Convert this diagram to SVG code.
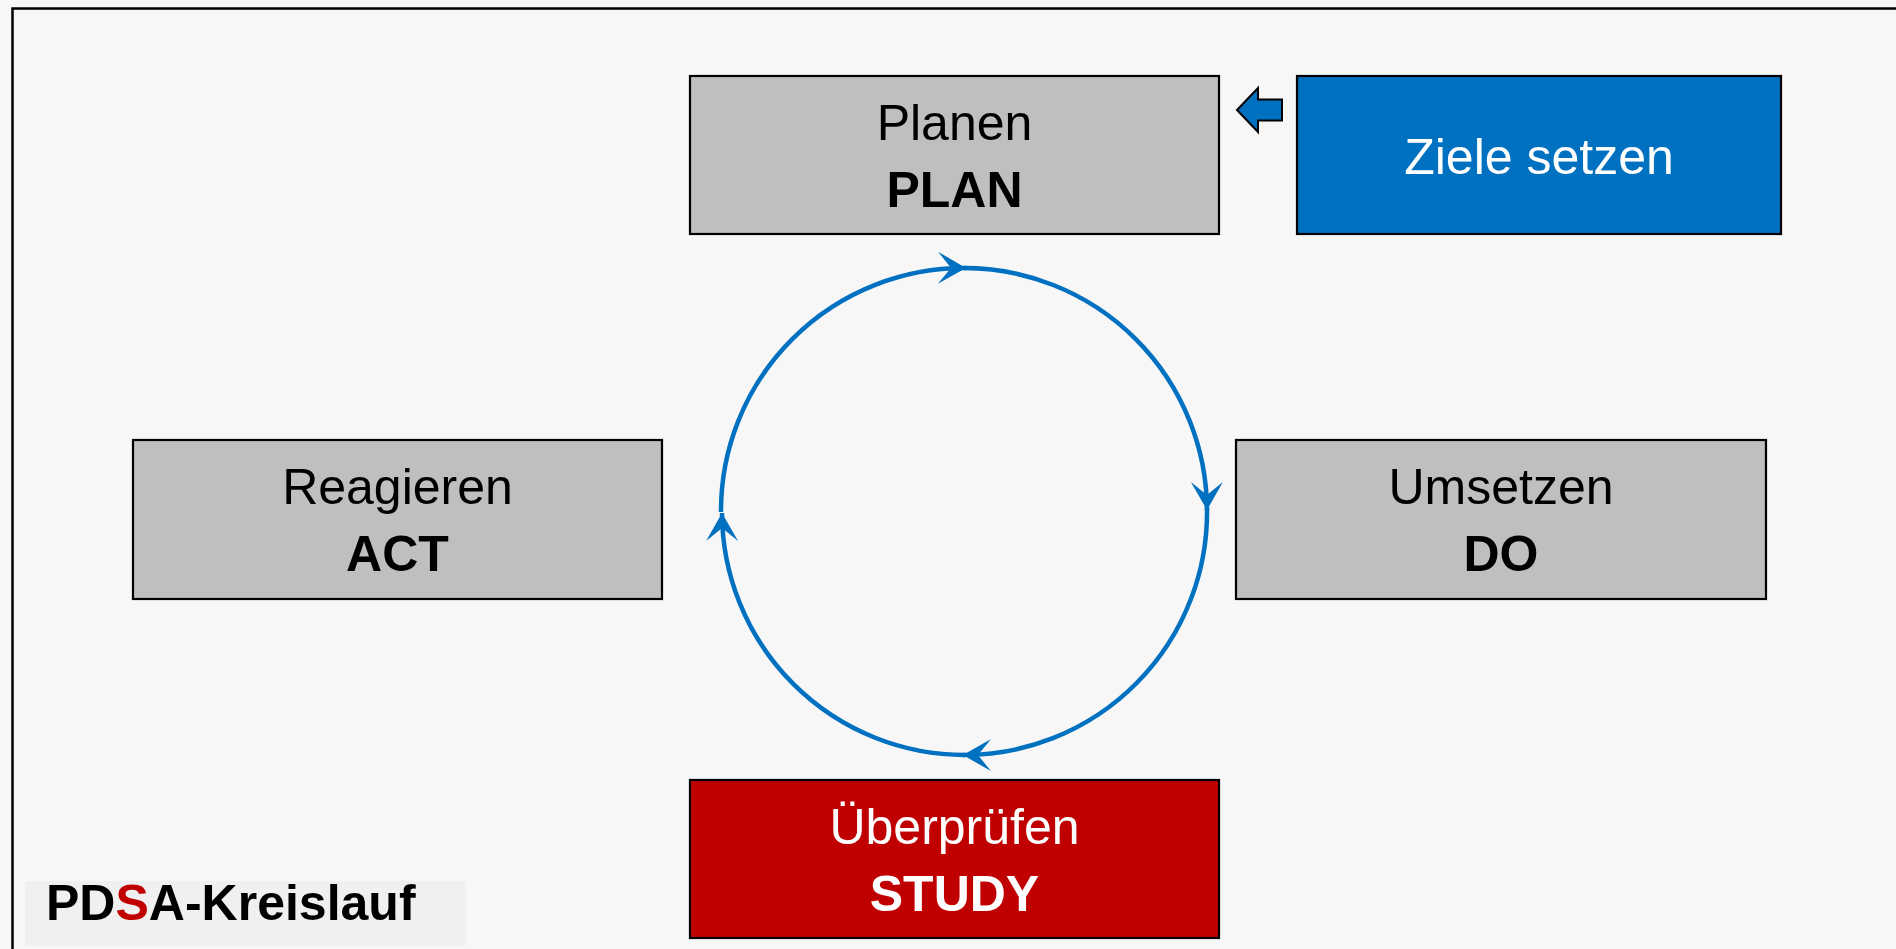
<svg xmlns="http://www.w3.org/2000/svg" width="1896" height="949" viewBox="0 0 1896 949">
<style>
.box{stroke:#000;stroke-width:2.2}
.gray{fill:#BFBFBF}
.t{font-family:"Liberation Sans",Arial,sans-serif;font-size:50px;text-anchor:middle;fill:#000}
.b{font-weight:bold}
.w{fill:#fff}
.loop{fill:none;stroke:#0070C0;stroke-width:4.5}
</style>
<defs>
<marker id="ah" markerUnits="userSpaceOnUse" markerWidth="44" markerHeight="44" viewBox="-32 -22 44 44" refX="0" refY="0" orient="auto">
<path d="M0,0 L-28,-16 L-15,0 L-28,16 Z" fill="#0070C0"/>
</marker>
</defs>
<rect x="0" y="0" width="1896" height="949" fill="#F7F7F7"/>
<rect x="12.5" y="8.5" width="1900" height="960" fill="#F7F7F7" stroke="#000" stroke-width="2.5"/>

<g id="connectors">
<path class="loop" d="M721,512 A243,243 0 0 1 966,268" marker-end="url(#ah)"/>
<path class="loop" d="M964,268 A243,243 0 0 1 1207,510" marker-end="url(#ah)"/>
<path class="loop" d="M1207,508 A243,243 0 0 1 963,755" marker-end="url(#ah)"/>
<path class="loop" d="M965,755 A243,243 0 0 1 722,513" marker-end="url(#ah)"/>
<path d="M1237,110 L1258,88 L1258,99.5 L1282,99.5 L1282,120.5 L1258,120.5 L1258,132 Z" fill="#0070C0" stroke="#000" stroke-width="2"/>
</g>

<g id="plan">
<rect class="box gray" x="690" y="76" width="529" height="158"/>
<text class="t" x="954.5" y="140">Planen</text>
<text class="t b" x="954.5" y="207">PLAN</text>
</g>
<g id="ziele">
<rect class="box" fill="#0070C0" x="1297" y="76" width="484" height="158"/>
<text class="t w" x="1539" y="174">Ziele setzen</text>
</g>
<g id="act">
<rect class="box gray" x="133" y="440" width="529" height="159"/>
<text class="t" x="397.5" y="504">Reagieren</text>
<text class="t b" x="397.5" y="571">ACT</text>
</g>
<g id="do">
<rect class="box gray" x="1236" y="440" width="530" height="159"/>
<text class="t" x="1501" y="504">Umsetzen</text>
<text class="t b" x="1501" y="571">DO</text>
</g>
<g id="study">
<rect class="box" fill="#C00000" x="690" y="780" width="529" height="158"/>
<text class="t w" x="954.5" y="844">Überprüfen</text>
<text class="t b w" x="954.5" y="911">STUDY</text>
</g>
<g id="title">
<rect x="25" y="881" width="441" height="65" fill="#F0F0F0"/>
<text class="t b" x="46" y="920" style="text-anchor:start">PD<tspan fill="#C00000">S</tspan>A-Kreislauf</text>
</g>
</svg>
